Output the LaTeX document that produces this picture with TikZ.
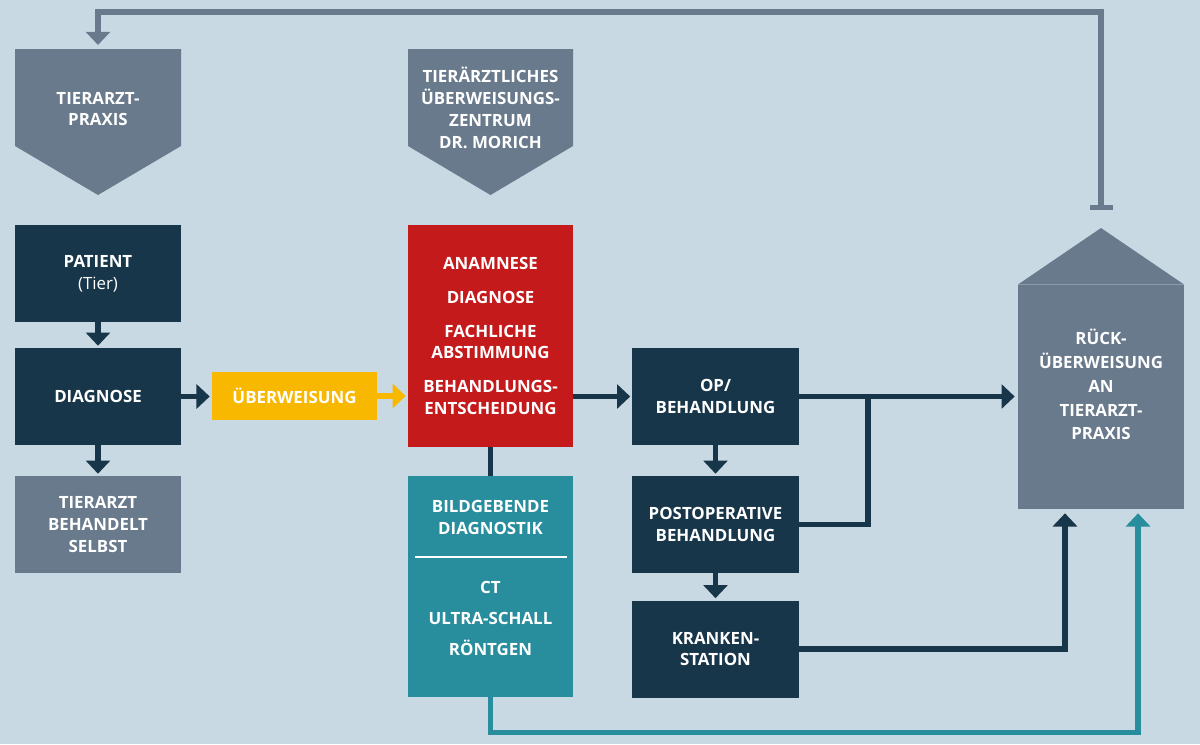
\documentclass[tikz,border=0pt]{standalone}
\usepackage{fontspec}
\setmainfont{Open Sans}
\usetikzlibrary{arrows.meta,positioning}

\definecolor{hellblau}{HTML}{C9D9E3}
\definecolor{schiefer}{HTML}{687A8C}
\definecolor{nachtblau}{HTML}{17364A}
\definecolor{signalrot}{HTML}{C41A1C}
\definecolor{gelb}{HTML}{F8B800}
\definecolor{petrol}{HTML}{288D9D}

\begin{document}
\begin{tikzpicture}[x=0.025cm, y=-0.025cm,
    box/.style={rectangle, minimum width=4.15cm, minimum height=2.425cm,
      inner sep=0pt, text=white, align=center,
      font=\bfseries\fontsize{12}{15.6}\selectfont},
    schrift/.style={text=white, align=center, inner sep=0pt,
      font=\bfseries\fontsize{12}{15.6}\selectfont},
    linie/.style={line width=3.6pt},
    pfeil/.style={line width=3.6pt, shorten >=0.05cm,
      -{Triangle[length=0.33cm,width=0.6cm]}}]
    \useasboundingbox[fill=hellblau] (0,0) rectangle (1200,744);
    \fill[schiefer] (15,49) -- (181,49) -- (181,146) -- (98,195) -- (15,146) -- cycle;
    \node[schrift] (praxis) at (98,109) {TIERARZT-\\PRAXIS};
    \coordinate (praxis oben) at (98,49);
    \fill[schiefer] (408,49) -- (573,49) -- (573,146) -- (490.5,195) -- (408,146) -- cycle;
    \node[schrift] (zentrum) at (490.5,107.5) {TIERÄRZTLICHES\\ÜBERWEISUNGS-\\ZENTRUM\\DR. MORICH};
    \node[box, fill=nachtblau] (patient) at (98,273.5) {PATIENT\\{\mdseries(Tier)}};
    \node[box, fill=nachtblau] (diagnose) at (98,396.5) {DIAGNOSE};
    \node[box, fill=schiefer] (selbst) at (98,524.5) {TIERARZT\\BEHANDELT\\SELBST};
    \node[box, fill=gelb, minimum width=4.125cm, minimum height=1.2cm] (ueberweisung) at (294.5,396) {ÜBERWEISUNG};
    \node[box, fill=signalrot, minimum width=4.125cm, minimum height=5.55cm] (abklaerung) at (490.5,336)
      {ANAMNESE\\[8.5pt]DIAGNOSE\\[8.5pt]FACHLICHE\\ABSTIMMUNG\\[8.5pt]BEHANDLUNGS-\\ENTSCHEIDUNG};
    \node[box, fill=petrol, minimum width=4.125cm, minimum height=5.525cm] (bild) at (490.5,586.5) {};
    \node[schrift] (bildtitel) at (490.5,517.5) {BILDGEBENDE\\DIAGNOSTIK};
    \draw[white, line width=1pt] (415,557) -- (567,557);
    \node[schrift] (verfahren) at (490.5,618.5) {CT\\[6.5pt]ULTRA-SCHALL\\[6.5pt]RÖNTGEN};
    \node[box, fill=nachtblau] (op) at (715.5,396.5) {OP/\\BEHANDLUNG};
    \node[box, fill=nachtblau] (postop) at (715.5,524.5) {POSTOPERATIVE\\BEHANDLUNG};
    \node[box, fill=nachtblau] (station) at (715.5,649) {KRANKEN-\\STATION};
    \node[box, fill=schiefer, minimum height=5.6cm] (rueck) at (1101,397) {};
    \fill[schiefer] (rueck.north west) -- (1101,228) -- (rueck.north east) -- cycle;
    \node[schrift, font=\bfseries\fontsize{12}{17}\selectfont] (ruecktext) at (1101,384.5)
      {RÜCK-\\ÜBERWEISUNG\\AN\\TIERARZT-\\PRAXIS};
    \coordinate (halt) at (1101,210);
    \coordinate (knoten) at (868,396.5);
    \draw[pfeil, nachtblau] (patient) -- (diagnose);
    \draw[pfeil, nachtblau] (diagnose) -- (selbst);
    \draw[pfeil, nachtblau] (diagnose.east) -- (diagnose.east -| ueberweisung.west);
    \draw[pfeil, gelb] (ueberweisung.east) -- (ueberweisung.east -| abklaerung.west);
    \draw[linie, nachtblau] (abklaerung) -- (bild);
    \draw[pfeil, nachtblau] (abklaerung.east |- op) -- (op.west);
    \draw[pfeil, nachtblau] (op) -- (postop);
    \draw[pfeil, nachtblau] (postop) -- (station);
    \draw[pfeil, nachtblau, shorten >=0.075cm] (op.east) -- (op.east -| rueck.west);
    \draw[linie, nachtblau] (postop.east) -| (knoten);
    \draw[pfeil, nachtblau, shorten >=0.1cm] (station.east) -| ([xshift=-0.9cm]rueck.south);
    \draw[pfeil, petrol, shorten >=0.1cm] (bild.south) -- ++(0,35) -| ([xshift=0.925cm]rueck.south);
    \draw[linie, schiefer, shorten >=0.1cm, {Bar[width=0.575cm]}-{Triangle[length=0.33cm,width=0.6cm]}]
      (halt) -- ++(0,-198) -| (praxis oben);
\end{tikzpicture}
\end{document}
